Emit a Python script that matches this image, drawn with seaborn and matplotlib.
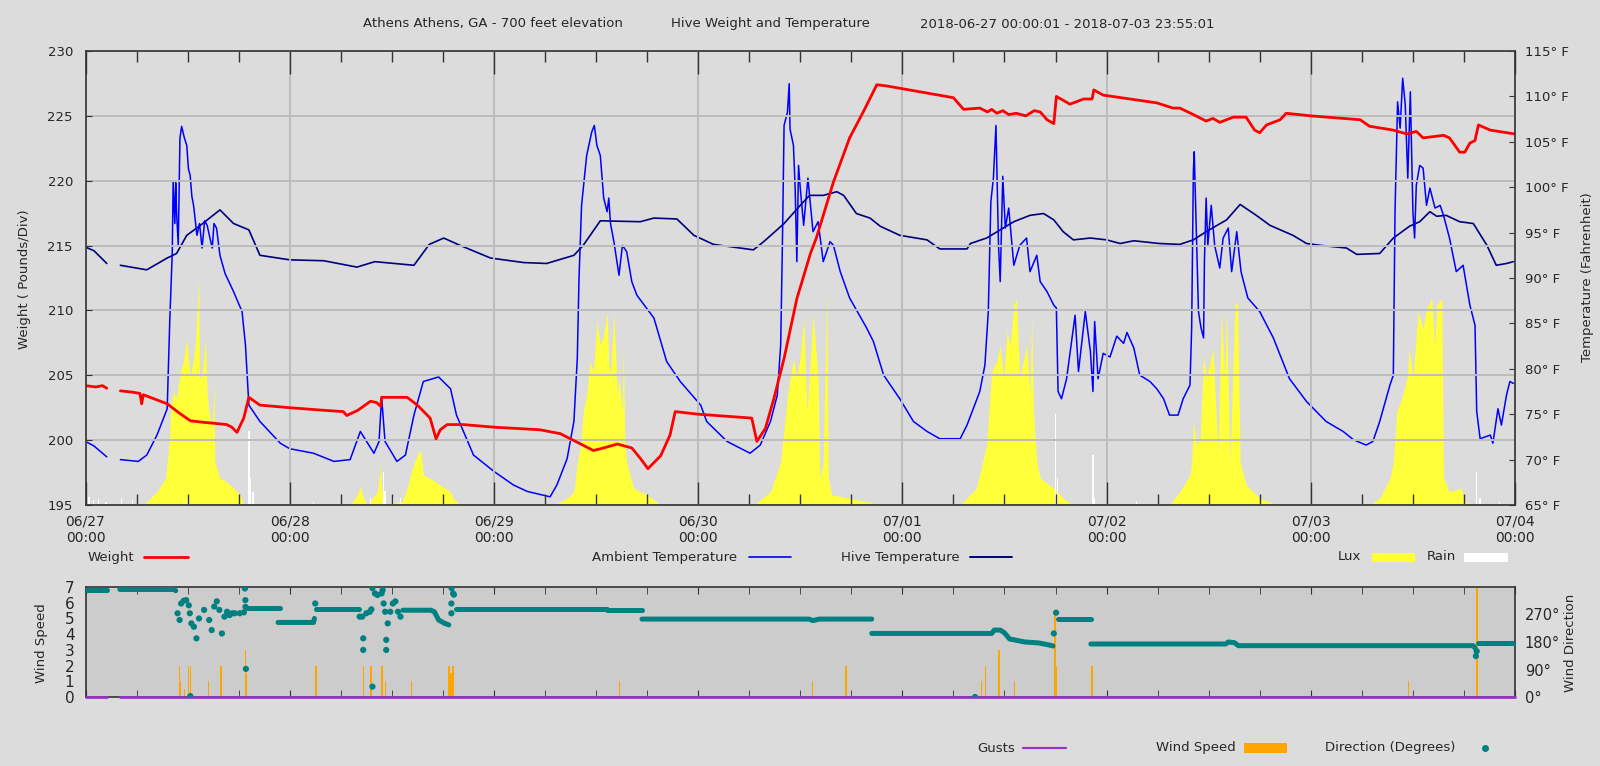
import numpy as np
import pandas as pd
import matplotlib
matplotlib.use("Agg")
import matplotlib.pyplot as plt
import seaborn as sns
from matplotlib.lines import Line2D
from matplotlib.patches import Rectangle

sns.set_style("white")
plt.rcParams['font.family'] = ['DejaVu Sans']
plt.rcParams['font.size'] = 9.5

# ---------------- data (hours since 2018-06-27 00:00) ----------------
day_ticks = [0, 24, 48, 72, 96, 120, 144, 168]
day_labels = ['06/27\n00:00', '06/28\n00:00', '06/29\n00:00', '06/30\n00:00',
              '07/01\n00:00', '07/02\n00:00', '07/03\n00:00', '07/04\n00:00']
weight_ticks = [195, 200, 205, 210, 215, 220, 225, 230]
temp_ticks = [65, 70, 75, 80, 85, 90, 95, 100, 105, 110, 115]
speed_ticks = [0, 1, 2, 3, 4, 5, 6, 7]
dir_ticks = [0, 90, 180, 270]

weight_h = [0, 1.2, 2.0, 2.5, None,
            4.1, 5.5, 6.4, 6.6, 6.8, 8.0, 9.6, 11.0, 12.3, 13.5, 15.1, 16.6, 17.2, 17.8, 18.6, 19.2, 20.5,
            24.0, 28.0, 30.3, 30.7, 32.0, 33.5, 34.2, 34.7, 34.8, 37.8, 39.0, 40.5, 41.2, 41.7, 42.5, 44.4,
            48.0, 53.4, 55.8, 58.2, 59.7, 60.9, 62.5, 64.2, 65.2, 66.1, 67.6, 68.7, 69.3, 72.0, 78.3, 78.9,
            79.9, 80.9, 82.1, 83.6, 85.2, 85.9, 87.9, 89.8, 91.4, 93.0, 94.2, 102.0, 103.2, 105.1, 106.0,
            106.5, 107.1, 107.8, 108.5, 109.4, 110.5, 111.5, 112.2, 113.0, 113.8, 114.1, 115.7, 117.3, 118.3,
            118.5, 119.6, 125.9, 127.8, 128.6, 130.2, 131.7, 132.5, 133.3, 134.9, 136.4, 137.4, 138.0, 138.8,
            140.4, 141.1, 144.0, 149.8, 150.9, 153.7, 155.3, 156.4, 157.2, 159.6, 160.3, 161.5, 162.1, 162.7,
            163.3, 163.7, 165.1, 168.0]
weight_lbs = [204.2, 204.1, 204.2, 204.0, None,
              203.8, 203.7, 203.6, 202.8, 203.5, 203.2, 202.8, 202.1, 201.5, 201.4, 201.3, 201.2, 201.0, 200.6, 201.7, 203.3, 202.7,
              202.5, 202.3, 202.2, 201.9, 202.3, 203.0, 202.9, 202.6, 203.3, 203.3, 202.7, 201.7, 200.1, 200.8, 201.2, 201.2,
              201.0, 200.8, 200.5, 199.7, 199.2, 199.4, 199.7, 199.4, 198.6, 197.8, 198.8, 200.4, 202.2, 202.0, 201.7, 199.9,
              200.9, 203.2, 206.3, 210.9, 214.4, 215.6, 219.9, 223.3, 225.3, 227.4, 227.3, 226.4, 225.5, 225.6, 225.3,
              225.5, 225.2, 225.4, 225.1, 225.2, 225.0, 225.4, 225.3, 224.7, 224.4, 226.5, 225.9, 226.3, 226.3,
              227.0, 226.6, 226.0, 225.6, 225.6, 225.1, 224.6, 224.8, 224.5, 224.9, 224.9, 223.9, 223.7, 224.3,
              224.7, 225.2, 225.0, 224.7, 224.2, 223.9, 223.6, 223.8, 223.3, 223.5, 223.3, 222.2, 222.2, 222.9,
              223.1, 224.3, 223.9, 223.6]

ambient_h = [0, 1.0, 2.5, None,
             4.1, 6.2, 7.2, 8.4, 9.6, 9.9, 10.2, 10.3, 10.5, 10.6, 10.7, 10.9, 11.1, 11.3, 11.6, 11.9, 12.1,
             12.3, 12.5, 12.7, 13.1, 13.4, 13.7, 14.0, 14.3, 14.6, 14.9, 15.1, 15.4, 15.8, 16.4, 17.4, 18.4,
             18.8, 19.2, 20.5, 22.9, 24.0, 26.8, 29.2, 31.1, 32.3, 33.9, 34.5, 34.8, 35.2, 36.6, 37.6, 38.6,
             39.7, 41.5, 42.9, 43.6, 45.6, 48.0, 50.3, 51.9, 54.6, 55.4, 56.6, 57.4, 57.8, 58.0, 58.3, 58.9,
             59.5, 59.8, 60.1, 60.5, 60.9, 61.3, 61.5, 61.7, 62.1, 62.7, 63.1, 63.6, 64.2, 64.8, 66.8, 68.3,
             69.9, 72.3, 73.0, 75.4, 78.1, 79.3, 80.5, 81.3, 81.7, 81.9, 82.1, 82.5, 82.7, 82.8, 83.2, 83.4,
             83.6, 83.8, 84.0, 84.4, 84.9, 85.5, 86.1, 86.7, 87.5, 87.9, 88.7, 89.8, 91.8, 92.6, 93.8, 95.7,
             97.3, 98.9, 100.4, 102.8, 103.6, 105.1, 105.7, 106.1, 106.4, 106.7, 107.0, 107.3, 107.5, 107.8,
             108.1, 108.5, 109.1, 109.8, 110.6, 111.0, 111.8, 112.2, 113.0, 113.8, 114.1, 114.3, 114.7, 115.3,
             116.3, 116.7, 117.5, 118.1, 118.4, 118.6, 119.0, 119.6, 120.4, 121.2, 122.0, 122.4, 123.2, 123.9,
             125.1, 125.9, 126.7, 127.4, 128.4, 129.0, 129.8, 130.0, 130.2, 130.3, 130.6, 130.8, 131.1, 131.4,
             131.5, 131.7, 131.9, 132.3, 132.7, 133.3, 133.7, 134.3, 134.7, 135.3, 135.8, 136.6, 138.0, 139.6,
             141.5, 143.5, 145.8, 147.8, 149.0, 150.5, 151.3, 152.1, 153.3, 153.7, 153.9, 154.2, 154.5, 154.8,
             155.1, 155.4, 155.7, 156.0, 156.2, 156.4, 156.8, 157.2, 157.6, 158.0, 158.6, 159.2, 159.6, 160.3,
             161.1, 161.9, 162.7, 163.3, 163.5, 163.9, 165.1, 165.4, 166.0, 166.4, 167.0, 167.4, 167.8]
ambient_f = [72.0, 71.5, 70.3, None,
             70.0, 69.8, 70.5, 72.7, 75.6, 85.2, 92.9, 100.6, 96.0, 100.5, 97.3, 93.6, 105.4, 106.7, 105.5, 104.6, 102.0,
             101.3, 99.0, 98.0, 94.7, 96.0, 93.3, 96.3, 95.8, 94.5, 93.3, 96.0, 95.5, 92.5, 90.5, 88.5, 86.3,
             82.6, 76.0, 74.2, 71.8, 71.2, 70.7, 69.8, 70.0, 73.1, 70.7, 72.0, 76.9, 72.0, 69.8, 70.5, 74.9,
             78.6, 79.1, 77.8, 74.9, 70.5, 68.7, 67.2, 66.5, 65.9, 67.2, 70.1, 74.2, 81.2, 90.0, 98.0, 103.5,
             106.1, 106.8, 104.6, 103.5, 98.8, 97.3, 98.8, 96.0, 94.0, 90.3, 93.6, 92.9, 89.6, 88.1, 85.6, 80.8,
             78.6, 76.0, 74.2, 72.0, 70.7, 71.6, 74.2, 77.1, 82.6, 93.6, 106.8, 108.3, 111.4, 106.4, 104.6, 99.9,
             91.8, 102.4, 99.9, 95.8, 101.0, 95.1, 96.2, 91.8, 94.0, 93.6, 90.7, 87.8, 84.5, 83.0, 79.3, 76.7,
             74.2, 73.1, 72.3, 72.3, 73.8, 77.5, 80.4, 86.3, 98.4, 101.0, 106.8, 93.6, 89.6, 101.2,
             95.5, 97.7, 91.4, 93.6, 94.4, 90.7, 92.5, 89.6, 88.5, 87.0, 86.7, 77.5, 76.7, 78.9,
             85.9, 79.7, 86.3, 81.9, 77.5, 85.2, 78.9, 81.7, 81.3, 83.6, 82.8, 84.0, 82.3, 79.3,
             78.6, 77.8, 76.7, 74.9, 74.9, 76.7, 78.2, 84.5, 101.7, 103.9, 93.6, 86.3, 84.5, 83.4,
             91.8, 98.8, 93.6, 98.0, 93.6, 91.1, 94.4, 95.5, 90.7, 95.1, 90.7, 87.8, 86.3, 83.4,
             78.9, 76.4, 74.2, 73.1, 72.2, 71.6, 72.0, 74.2, 78.2, 79.3, 97.3, 109.4, 106.5, 112.0,
             109.1, 101.0, 110.5, 97.3, 94.4, 100.2, 102.4, 102.1, 98.0, 99.9, 97.7, 98.0, 96.9, 94.4,
             90.7, 91.4, 87.0, 84.8, 75.3, 72.3, 72.7, 71.8, 75.6, 73.8, 77.1, 78.6, 78.4]

hive_h = [0, 1.0, 2.5, None,
          4.1, 7.2, 9.6, 10.7, 11.9, 13.5, 15.8, 17.4, 19.2, 20.5, 24.0, 28.0, 31.9, 34.0, 38.6, 40.4, 42.1,
          44.0, 47.6, 51.5, 54.2, 57.4, 58.5, 60.5, 65.2, 66.8, 69.5, 71.5, 73.8, 78.5, 79.7, 82.1, 84.0,
          85.1, 86.7, 88.3, 89.1, 90.6, 92.2, 93.4, 95.7, 98.9, 100.4, 103.6, 104.0, 105.9, 109.1, 111.0,
          112.6, 113.8, 114.9, 116.1, 118.1, 120.0, 121.6, 123.2, 126.2, 128.6, 130.2, 131.7, 134.1, 135.7,
          137.6, 139.2, 141.9, 143.5, 145.1, 148.2, 149.4, 152.1, 153.7, 155.6, 156.8, 158.0, 158.8, 159.9,
          161.5, 163.1, 164.7, 165.8, 167.0, 167.8]
hive_f = [93.4, 93.0, 91.6, None,
          91.4, 90.9, 92.2, 92.7, 94.7, 95.8, 97.5, 96.0, 95.3, 92.5, 92.0, 91.9, 91.2, 91.8, 91.4, 93.7, 94.4,
          93.6, 92.2, 91.7, 91.6, 92.5, 93.6, 96.3, 96.2, 96.6, 96.5, 94.7, 93.7, 93.1, 94.0, 96.0, 98.0,
          99.1, 99.1, 99.5, 99.1, 97.1, 96.6, 95.7, 94.7, 94.2, 93.2, 93.2, 93.8, 94.4, 96.2, 96.9,
          97.1, 96.4, 95.1, 94.2, 94.4, 94.2, 93.8, 94.1, 93.8, 93.7, 94.2, 95.1, 96.4, 98.1,
          96.9, 95.8, 94.7, 93.8, 93.6, 93.3, 92.6, 92.7, 94.4, 95.7, 96.2, 97.3, 96.8, 96.9,
          96.2, 96.0, 93.6, 91.4, 91.6, 91.8]

lux_h = [6.8, 8.4, 9.4, 9.8, 10.0, 10.3, 10.7, 11.1, 11.5, 11.9, 12.3, 12.7, 12.9, 13.3, 13.4, 13.7,
         14.1, 14.3, 14.5, 14.9, 15.1, 15.2, 15.8, 16.6, 17.4, 18.2, 18.6,
         31.1, 31.9, 32.3, 32.7, 33.1, 34.3, 34.7, 34.8, 35.2, 37.2, 37.8, 38.4, 39.0, 39.4, 39.7, 40.5,
         41.7, 42.9, 43.2, 44.0,
         55.0, 56.6, 57.4, 57.8, 58.2, 58.5, 58.9, 59.3, 59.7, 60.1, 60.5, 60.9, 61.3, 61.5, 61.7, 62.1,
         62.5, 62.7, 63.1, 63.2, 63.4, 63.6, 64.4, 66.0, 67.6,
         78.5, 80.5, 81.7, 82.1, 82.5, 83.2, 83.6, 84.0, 84.4, 84.8, 85.5, 86.1, 86.3, 86.7, 87.1, 87.3,
         87.7, 89.8, 92.6, 93.4,
         102.8, 104.7, 105.9, 106.5, 107.1, 107.5, 107.9, 108.3, 108.7, 109.1, 109.4, 109.8, 110.2, 110.6,
         111.0, 111.2, 111.4, 111.8, 112.2, 113.8, 114.9, 116.1,
         127.4, 128.6, 129.8, 130.0, 130.2, 130.6, 131.0, 131.4, 131.7, 132.1, 132.5, 133.1, 133.5, 133.9,
         134.1, 134.5, 135.1, 135.4, 135.7, 136.4, 138.0, 140.0,
         150.9, 152.1, 153.3, 153.7, 154.1, 154.7, 155.3, 155.6, 156.0, 156.6, 157.2, 157.6, 158.2, 158.6,
         158.8, 159.4, 159.6, 160.3, 161.7, 162.1, 163.1]
lux_klx = [0, 2.9, 5.9, 13, 20.6, 25, 23.5, 28.6, 31.6, 36.7, 27.9, 32.3, 35.2, 49.9, 27.9, 28.6,
           36.7, 24.2, 20.6, 16.9, 27.2, 9.5, 5.9, 5.1, 3.7, 2.2, 0,
           0, 2.2, 4.0, 1.5, 0, 2.9, 8.8, 3.7, 0, 0.7, 3.7, 8.1, 11, 12.1, 6.6, 5.9,
           4.4, 2.9, 1.5, 0,
           0, 1.5, 2.9, 9.5, 13.2, 20.6, 24.2, 31.6, 29.4, 40.4, 35.2, 37.4, 42.6, 31.6, 27.9, 42.6,
           24.2, 27.9, 20.6, 35.2, 13.2, 9.5, 3.7, 2.2, 0,
           0, 2.9, 9.5, 16.9, 24.2, 32.3, 27.9, 33.0, 41.1, 20.6, 41.9, 27.9, 5.9, 9.5, 47.0, 5.9,
           2.2, 1.5, 0.4, 0,
           0, 3.7, 13.2, 29.4, 31.6, 35.2, 27.9, 38.2, 35.2, 44.1, 45.5, 27.9, 31.6, 35.2,
           24.2, 41.9, 20.6, 9.5, 5.9, 3.7, 1.5, 0,
           0, 2.9, 6.6, 9.5, 18.4, 13.2, 14.7, 33.0, 27.9, 30.8, 34.5, 11.7, 42.6, 27.9,
           43.3, 9.5, 44.8, 44.1, 9.5, 4.4, 1.5, 0,
           0, 1.5, 5.9, 9.5, 20.6, 23.5, 27.9, 34.5, 27.9, 42.6, 38.9, 43.3, 45.5, 35.2,
           44.1, 45.5, 5.9, 2.9, 3.7, 0.7, 0]

rain_h = [0.1, 0.4, 0.9, 1.5, 2.4, 4.2, 5.5, 12.0, 19.2, 19.4, 19.7, 26.8, 33.5, 35.0, 35.2, 36.2,
          37.0, 114.0, 114.2, 118.4, 118.6, 123.5, 163.5, 163.9, 166.2]
rain_v = [4.4, 1.8, 1.1, 1.3, 0.7, 1.6, 1.0, 1.2, 16.2, 5.9, 2.9, 0.7, 1.5, 7.3, 3.0, 1.5,
          1.5, 20.0, 6.0, 11.0, 1.5, 0.8, 7.3, 1.5, 0.7]

speed_h = [11.06, 11.1, 11.66, 12.14, 12.32, 14.42, 15.91, 18.79, 18.91, 27.07, 32.70, 33.54, 34.86,
           35.22, 38.28, 42.72, 42.96, 43.2, 62.75, 85.47, 89.37, 105.32, 105.8, 107.36, 109.15, 113.95,
           114.05, 118.27, 155.45, 163.54, 163.62]
speed_mph = [2, 1, 0.5, 2, 2, 1, 2, 3, 1.5, 2, 2, 2, 2,
             1, 1, 2, 1.5, 2, 1, 1, 2, 1, 2, 3, 1, 5.3,
             2, 2, 1, 7.5, 3]

gust_h = [0, 2.54, None, 4.04, 168]
gust_mph = [0, 0, None, 0, 0]

dir_line_h = [0, 2.54, None, 4.04, 10.4, 10.6, None, 19.03, 22.9, None, 22.63, 26.8, 26.9, None,
              27.1, 32.2, None, 37.3, 40.6, 41.0, 41.5, 42.2, 42.7, None, 43.5, 61.3, 61.3, 65.4, None,
              65.4, 85.0, 85.5, 86.2, 92.4, None, 92.4, 106.5, 106.8, 107.5, 108.0, 108.6, 109.5, 110.4,
              112.0, 113.3, 113.7, None, 114.25, 118.15, None, 118.15, 134.0, 134.3, 135.0, 135.5, 163.1,
              163.3, None, 163.7, 168.0]
dir_line_deg = [350, 350, None, 352, 352, 348, None, 292, 292, None, 244, 244, 257, None,
                287, 287, None, 284, 284, 279, 252, 241, 236, None, 288, 288, 284, 284, None,
                255, 255, 250, 255, 255, None, 208, 208, 219, 219, 210, 190, 185, 180,
                177, 170, 167, None, 255, 255, None, 173.5, 173.5, 180, 178, 168, 168,
                160, None, 177, 177]

dir_pt_h = [10.82, 11.06, 11.24, 11.54, 11.84, 12.14, 12.26, 12.32, 12.44, 12.74, 13.04, 13.34, 13.94,
            14.54, 14.83, 15.13, 15.43, 15.73, 16.03, 16.33, 16.63, 16.93, 17.23, 17.53, 18.13, 18.61,
            18.73, 18.79, 18.8, 18.85, 27.0, 32.22, 32.52, 32.64, 32.64, 33.0, 33.42, 33.6, 33.72, 33.72,
            34.02, 34.32, 34.8, 34.92, 35.04, 35.22, 35.34, 35.34, 35.52, 35.82, 36.12, 36.42, 36.72,
            37.02, 43.0, 43.0, 43.02, 43.2, 43.3, 104.54, 113.8, 114.07, 163.4, 163.5]
dir_pt_deg = [274, 252, 306, 315, 317, 300, 274, 3, 241, 230, 192, 257, 285,
              252, 219, 296, 313, 285, 208, 263, 279, 268, 274, 274, 274, 277,
              355, 317, 295, 92, 306, 263, 263, 192, 154, 274, 279, 287, 356, 34,
              339, 334, 339, 350, 306, 279, 187, 154, 241, 279, 306, 313, 279,
              263, 306, 274, 356, 339, 335, 0, 208, 276, 134, 150]

# ---------------- helpers ----------------
W, H = 1600, 766
def fx(px):
    return px / W
def fy(py):
    return 1 - py / H

def seg_frame(hs, vs):
    df = pd.DataFrame({'h': pd.array(hs, dtype='float'), 'v': pd.array(vs, dtype='float')})
    df['seg'] = df['h'].isna().cumsum()
    return df.dropna().reset_index(drop=True)

BG = '#dcdcdc'
SPINE = '#333333'
fig = plt.figure(figsize=(16, 7.66), dpi=100, facecolor=BG)

# ---------------- top panel ----------------
rect = [fx(85.5), fy(505), fx(1515) - fx(85.5), fy(51) - fy(505)]
ax_l = fig.add_axes(rect, facecolor=BG)
ax_t = fig.add_axes(rect)
ax_w = fig.add_axes(rect)
for a in (ax_l, ax_t, ax_w):
    a.set_xlim(0, 168)
for a in (ax_t, ax_w):
    a.patch.set_visible(False)
for a in (ax_l, ax_t):
    for s in a.spines.values():
        s.set_visible(False)
    a.xaxis.set_visible(False)

ax_l.set_ylim(0, 100)
ax_l.yaxis.set_visible(False)
ax_l.fill_between(lux_h, 0, lux_klx, color='#ffff3a', lw=0, zorder=2)
ax_l.bar(rain_h, rain_v, width=0.15, color='white', lw=0, zorder=3)

ax_t.set_ylim(65, 115)
ax_t.yaxis.tick_right()
ax_t.set_yticks(temp_ticks)
ax_t.set_yticklabels([f'{t}° F' for t in temp_ticks])
ax_t.tick_params(axis='y', direction='in', length=4, pad=7, labelsize=9.5, color=SPINE)
df_amb = seg_frame(ambient_h, ambient_f)
df_hive = seg_frame(hive_h, hive_f)
sns.lineplot(data=df_hive, x='h', y='v', units='seg', estimator=None, sort=False,
             color='#000080', lw=1.2, ax=ax_t, legend=False)
sns.lineplot(data=df_amb, x='h', y='v', units='seg', estimator=None, sort=False,
             color='#0000ff', lw=1.1, ax=ax_t, legend=False)
ax_t.set_xlabel('')
ax_t.set_ylabel('')

ax_w.set_ylim(195, 230)
ax_w.set_yticks(weight_ticks)
ax_w.tick_params(axis='y', direction='in', length=4, pad=9, labelsize=9.5, left=True, right=False,
                 color=SPINE)
ax_w.set_xticks(day_ticks)
ax_w.set_xticklabels(day_labels)
ax_w.set_xticks(np.arange(0, 169, 6), minor=True)
ax_w.tick_params(axis='x', which='major', direction='in', length=16.5, width=1.0, top=True,
                 bottom=True, pad=7, labelsize=10, color=SPINE)
ax_w.tick_params(axis='x', which='minor', direction='in', length=8, width=1.0, top=True,
                 bottom=True, color=SPINE)
ax_w.grid(True, which='major', color='#bdbdbd', lw=1.4)
ax_w.set_axisbelow(True)
df_w = seg_frame(weight_h, weight_lbs)
sns.lineplot(data=df_w, x='h', y='v', units='seg', estimator=None, sort=False,
             color='#ff0000', lw=2.0, ax=ax_w, legend=False)
ax_w.set_xlabel('')
ax_w.set_ylabel('')
for s in ax_w.spines.values():
    s.set_color(SPINE)
    s.set_linewidth(1.2)

# ---------------- bottom panel ----------------
rect2 = [fx(85.5), fy(697), fx(1515) - fx(85.5), fy(587) - fy(697)]
ax_s = fig.add_axes(rect2, facecolor='#cccccc')
ax_d = fig.add_axes(rect2)
ax_d.patch.set_visible(False)
for a in (ax_s, ax_d):
    a.set_xlim(0, 168)
ax_s.set_ylim(0, 7)
ax_s.set_yticks(speed_ticks)
ax_s.tick_params(axis='y', direction='in', length=3, pad=8, labelsize=11, color=SPINE)
ax_s.set_xticks(day_ticks)
ax_s.set_xticklabels([])
ax_s.set_xticks(np.arange(0, 169, 6), minor=True)
ax_s.tick_params(axis='x', which='both', direction='in', length=5, top=True, bottom=True,
                 color=SPINE)
ax_s.bar(speed_h, speed_mph, width=0.16, color='#ffa500', lw=0, zorder=2)
df_g = seg_frame(gust_h, gust_mph)
sns.lineplot(data=df_g, x='h', y='v', units='seg', estimator=None, sort=False,
             color='#9932cc', lw=2.0, ax=ax_s, legend=False, clip_on=False, zorder=5)
ax_s.set_xlabel('')
ax_s.set_ylabel('')
for s in ax_s.spines.values():
    s.set_color(SPINE)
    s.set_linewidth(1.2)

ax_d.set_ylim(0, 360)
ax_d.yaxis.tick_right()
ax_d.set_yticks(dir_ticks)
ax_d.set_yticklabels([f'{d}°' for d in dir_ticks])
ax_d.tick_params(axis='y', direction='in', length=0, pad=7, labelsize=10.5)
ax_d.xaxis.set_visible(False)
for s in ax_d.spines.values():
    s.set_visible(False)
df_dir = seg_frame(dir_line_h, dir_line_deg)
sns.lineplot(data=df_dir, x='h', y='v', units='seg', estimator=None, sort=False,
             color='#008080', lw=3.6, ax=ax_d, legend=False, solid_capstyle='round')
sns.scatterplot(x=dir_pt_h, y=dir_pt_deg, color='#008080', s=20, edgecolor='none', ax=ax_d,
                legend=False)
ax_d.set_xlabel('')
ax_d.set_ylabel('')

# ---------------- texts ----------------
ty = fy(24)
fig.text(fx(363), ty, 'Athens Athens, GA - 700 feet elevation', ha='left', va='center', fontsize=9.5)
fig.text(fx(671), ty, 'Hive Weight and Temperature', ha='left', va='center', fontsize=9.5)
fig.text(fx(920), ty, '2018-06-27 00:00:01 - 2018-07-03 23:55:01', ha='left', va='center', fontsize=9.5)

fig.text(fx(25), fy(279), 'Weight ( Pounds/Div)', rotation=90, ha='center', va='center', fontsize=9.5)
fig.text(fx(1588), fy(277), 'Temperature (Fahrenheit)', rotation=90, ha='center', va='center', fontsize=9.5)
fig.text(fx(41), fy(643), 'Wind Speed', rotation=90, ha='center', va='center', fontsize=9.5)
fig.text(fx(1570), fy(643), 'Wind Direction', rotation=90, ha='center', va='center', fontsize=9.5)

# legend row 1
ly = fy(557)
fig.text(fx(88), ly, 'Weight', ha='left', va='center', fontsize=9.5)
fig.add_artist(Line2D([fx(144), fx(188)], [ly, ly], color='#ff0000', lw=2.0))
fig.text(fx(592), ly, 'Ambient Temperature', ha='left', va='center', fontsize=9.5)
fig.add_artist(Line2D([fx(749), fx(791)], [ly, ly], color='#0000ff', lw=1.2))
fig.text(fx(841), ly, 'Hive Temperature', ha='left', va='center', fontsize=9.5)
fig.add_artist(Line2D([fx(970), fx(1012)], [ly, ly], color='#000080', lw=1.4))
fig.text(fx(1338), ly, 'Lux', ha='left', va='center', fontsize=9.5)
fig.add_artist(Rectangle((fx(1372), fy(562)), fx(1415) - fx(1372), fy(553) - fy(562),
                         color='#ffff3a', lw=0, transform=fig.transFigure))
fig.text(fx(1427), ly, 'Rain', ha='left', va='center', fontsize=9.5)
fig.add_artist(Rectangle((fx(1464), fy(562)), fx(1508) - fx(1464), fy(553) - fy(562),
                         color='white', lw=0, transform=fig.transFigure))

# legend row 2
ly2 = fy(748)
fig.text(fx(977), ly2, 'Gusts', ha='left', va='center', fontsize=9.5)
fig.add_artist(Line2D([fx(1023), fx(1066)], [ly2, ly2], color='#9932cc', lw=1.6))
fig.text(fx(1156), ly2, 'Wind Speed', ha='left', va='center', fontsize=9.5)
fig.add_artist(Rectangle((fx(1244), fy(753)), fx(1287) - fx(1244), fy(743) - fy(753),
                         color='#ffa500', lw=0, transform=fig.transFigure))
fig.text(fx(1325), ly2, 'Direction (Degrees)', ha='left', va='center', fontsize=9.5)
fig.add_artist(Line2D([fx(1485)], [ly2], color='#008080', marker='o', markersize=4, lw=0))

fig.savefig('out.png', dpi=100, facecolor=BG)
